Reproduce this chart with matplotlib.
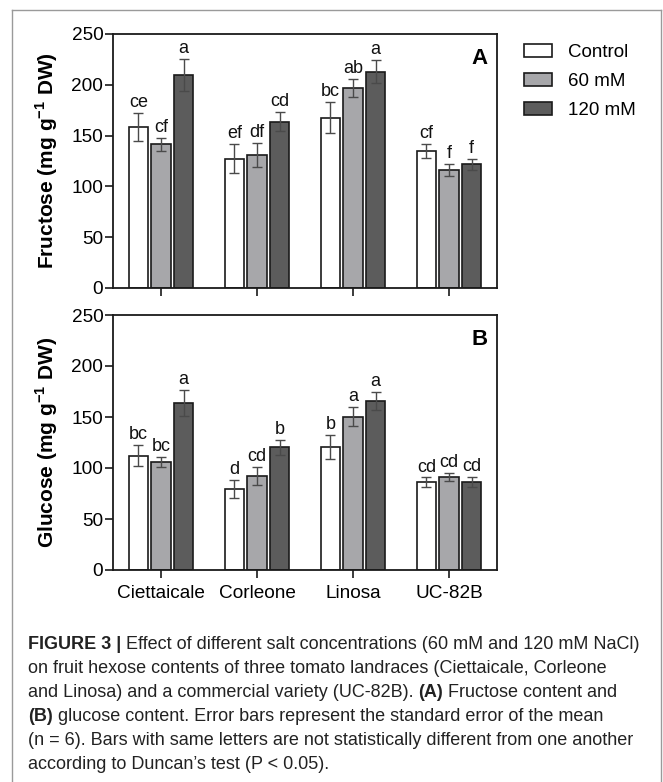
import matplotlib
matplotlib.use("Agg")
import matplotlib.pyplot as plt
from matplotlib.patches import Patch
import numpy as np

# ---------------- data ----------------
cultivars = ["Ciettaicale", "Corleone", "Linosa", "UC-82B"]
treatments = ["Control", "60 mM", "120 mM"]

fructose_control = [158.6, 127.3, 167.8, 134.8]
fructose_60 = [141.6, 130.9, 197.1, 116.2]
fructose_120 = [209.5, 163.8, 212.8, 121.7]
fructose_se_control = [14.0, 14.0, 15.5, 6.5]
fructose_se_60 = [6.5, 11.6, 8.7, 5.7]
fructose_se_120 = [16.0, 9.0, 11.3, 5.6]
fructose_letters_control = ["ce", "ef", "bc", "cf"]
fructose_letters_60 = ["cf", "df", "ab", "f"]
fructose_letters_120 = ["a", "cd", "a", "f"]

glucose_control = [112.1, 79.1, 120.6, 86.0]
glucose_60 = [105.6, 92.5, 150.3, 91.2]
glucose_120 = [163.7, 120.3, 166.0, 86.0]
glucose_se_control = [10.3, 8.8, 11.3, 4.7]
glucose_se_60 = [5.0, 8.8, 9.2, 3.9]
glucose_se_120 = [12.7, 7.2, 9.0, 5.0]
glucose_letters_control = ["bc", "d", "b", "cd"]
glucose_letters_60 = ["bc", "cd", "a", "cd"]
glucose_letters_120 = ["a", "b", "a", "cd"]

yticks = [0, 50, 100, 150, 200, 250]

# ---------------- style ----------------
W, H = 663, 782
DPI = 100
FONT = "Liberation Sans"
CAP_FONT = "Liberation Sans"
plt.rcParams["font.family"] = [FONT, "DejaVu Sans"]
plt.rcParams["mathtext.fontset"] = "custom"
plt.rcParams["mathtext.rm"] = FONT
plt.rcParams["mathtext.bf"] = FONT + ":bold"

colors = ["#ffffff", "#a7a7aa", "#5c5c5c"]
edge = "#1a1a1a"
err_color = "#4a4a4a"
bar_w = 0.2
offset = 0.235

fig = plt.figure(figsize=(W / DPI, H / DPI), dpi=DPI)


def ax_rect(left, top, right, bottom):
    return [left / W, 1 - bottom / H, (right - left) / W, (bottom - top) / H]


# outer frame (open at the bottom)
for xs, ys in [([12, 12], [10, H + 5]), ([661, 661], [10, H + 5]), ([12, 661], [10, 10])]:
    fig.add_artist(plt.Line2D([v / W for v in xs], [1 - v / H for v in ys],
                              transform=fig.transFigure, color="#9a9a9a", lw=1.0))


def panel(ax, vals, ses, letters, ylabel, tag, show_xlabels):
    x = np.arange(len(cultivars))
    for i in range(3):
        xi = x + (i - 1) * offset
        ax.bar(xi, vals[i], width=bar_w, color=colors[i], edgecolor=edge, linewidth=1.2,
               zorder=2)
        ax.errorbar(xi, vals[i], yerr=ses[i], fmt="none", ecolor=err_color, elinewidth=1.0,
                    capsize=3.5, capthick=1.0, zorder=3)
        for xx, v, s, lab in zip(xi, vals[i], ses[i], letters[i]):
            ax.annotate(lab, (xx, v + s), xytext=(0, 4.3), textcoords="offset points",
                        ha="center", va="baseline", fontsize=13, color="#111111")
    ax.set_xlim(-0.5, 3.5)
    ax.set_ylim(0, 250)
    ax.set_yticks(yticks)
    ax.set_xticks(x)
    if show_xlabels:
        ax.set_xticklabels(cultivars, fontsize=13.7)
    else:
        ax.set_xticklabels([])
    ax.tick_params(axis="both", direction="out", length=6, width=1.2, color=edge,
                   labelsize=13.7, pad=1)
    ax.tick_params(axis="x", pad=5)
    for sp in ax.spines.values():
        sp.set_linewidth(1.3)
        sp.set_color(edge)
    ax.set_ylabel(ylabel, fontsize=15, fontweight="bold")
    ax.yaxis.set_label_coords(-0.137, 0.5)
    ax.text(0.955, 0.905, tag, transform=ax.transAxes, ha="center", va="center",
            fontsize=16, fontweight="bold")


axA = fig.add_axes(ax_rect(113, 34, 497, 288))
axB = fig.add_axes(ax_rect(113, 315, 497, 570))

panel(axA, [fructose_control, fructose_60, fructose_120],
      [fructose_se_control, fructose_se_60, fructose_se_120],
      [fructose_letters_control, fructose_letters_60, fructose_letters_120],
      r"Fructose (mg g$^{\mathbf{-1}}$ DW)", "A", False)
panel(axB, [glucose_control, glucose_60, glucose_120],
      [glucose_se_control, glucose_se_60, glucose_se_120],
      [glucose_letters_control, glucose_letters_60, glucose_letters_120],
      r"Glucose (mg g$^{\mathbf{-1}}$ DW)", "B", True)

# legend
handles = [Patch(facecolor=c, edgecolor=edge, linewidth=1.2) for c in colors]
fig.legend(handles, treatments, loc="upper left", bbox_to_anchor=(516 / W, 1 - 36 / H),
           frameon=False, fontsize=13.5, handlelength=1.5, handleheight=0.75,
           handletextpad=0.85, labelspacing=0.62, borderaxespad=0)

# caption
fig.canvas.draw()
renderer = fig.canvas.get_renderer()


def seg_width(txt, bold, size):
    def w(s):
        t = fig.text(0, 0, s, fontsize=size, family=[CAP_FONT, "DejaVu Sans"],
                     fontweight="bold" if bold else "normal")
        bb = t.get_window_extent(renderer)
        t.remove()
        return bb.width
    return w("x" + txt + "x") - w("xx")


caption_lines = [
    [("FIGURE 3 | ", True), ("Effect of different salt concentrations (60 mM and 120 mM NaCl)", False)],
    [("on fruit hexose contents of three tomato landraces (Ciettaicale, Corleone", False)],
    [("and Linosa) and a commercial variety (UC-82B). ", False), ("(A)", True),
     (" Fructose content and", False)],
    [("(B)", True), (" glucose content. Error bars represent the standard error of the mean", False)],
    [("(n = 6). Bars with same letters are not statistically different from one another", False)],
    [("according to Duncan\u2019s test (P < 0.05).", False)],
]
# fit first caption line to its width in the reference (x 28 -> 643)
w10 = sum(seg_width(t, b, 10) for t, b in caption_lines[0])
cap_size = 10 * (643 - 28) / w10

base_y = 649
for k, line in enumerate(caption_lines):
    xpix = 28.0
    ypix = base_y + 24 * k
    for txt, bold in line:
        fig.text(xpix / W, 1 - ypix / H, txt, fontsize=cap_size,
                 family=[CAP_FONT, "DejaVu Sans"], fontweight="bold" if bold else "normal",
                 ha="left", va="baseline", color="#222222")
        xpix += seg_width(txt, bold, cap_size)

fig.savefig("out.png", dpi=DPI)
